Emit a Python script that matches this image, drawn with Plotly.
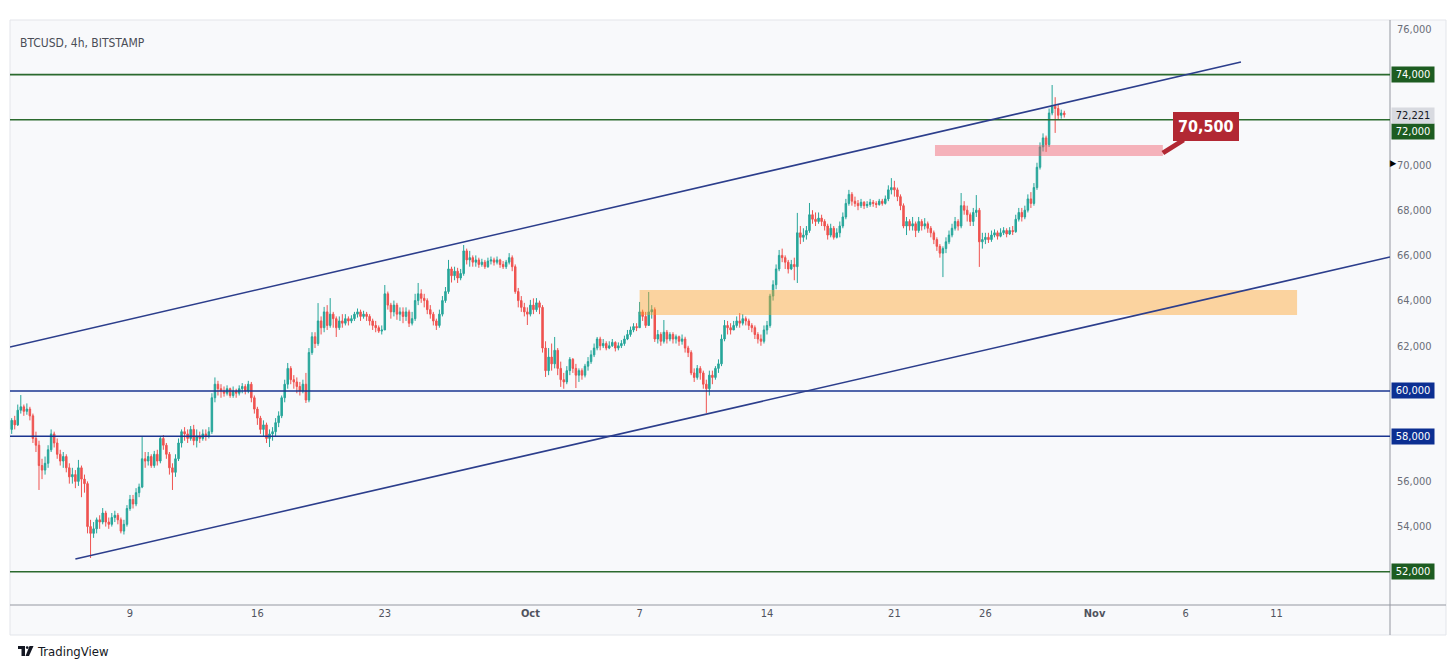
import pandas as pd
import plotly.graph_objects as go

# ---------------- data (BTCUSD 4h) ----------------
first_open = 58300
closes = [
    58700, 58500, 59150,                                  # Sep 2 (from 12:00)
    59300, 59100, 59200, 58900, 57900, 57600,             # Sep 3
    56700, 56500, 56800, 57400, 58100, 57700,             # Sep 4
    57200, 56900, 57100, 56600, 56200, 56300,             # Sep 5
    56000, 56600, 56100, 55900, 54000, 53700,             # Sep 6
    53900, 54300, 54200, 54600, 54200, 54100,             # Sep 7
    54400, 54500, 54300, 53800, 54100, 54800,             # Sep 8
    55200, 55000, 55500, 55750, 57000, 56900,             # Sep 9
    57100, 56700, 57200, 56900, 57900, 57600,             # Sep 10
    57200, 56600, 56400, 57000, 57700, 58200,             # Sep 11
    58100, 57900, 58300, 57800, 58000, 57900,             # Sep 12
    58100, 58000, 58200, 59700, 60300, 60100,             # Sep 13
    60000, 59900, 60100, 59800, 60000, 59900,             # Sep 14
    60100, 60200, 60000, 60300, 59700, 59200,             # Sep 15
    58800, 58300, 58500, 57900, 58100, 58200,             # Sep 16
    58600, 58900, 59700, 60300, 61000, 60500,             # Sep 17
    60400, 60200, 60000, 60300, 59600, 61700,             # Sep 18
    62400, 62100, 63100, 62800, 63500, 62900,             # Sep 19
    63400, 63200, 62800, 63100, 63000, 63200,             # Sep 20
    63100, 63200, 63400, 63500, 63300, 63400,             # Sep 21
    63300, 63100, 62900, 62800, 62650, 62700,             # Sep 22
    64300, 63800, 63500, 63800, 63400, 63500,             # Sep 23
    63300, 63500, 63000, 63200, 64000, 64300,             # Sep 24
    64100, 64000, 63600, 63400, 63100, 62900,             # Sep 25
    63400, 64000, 64400, 65400, 65100, 65300,             # Sep 26
    65000, 65200, 66200, 65800, 65900, 65700,             # Sep 27
    65800, 65600, 65700, 65500, 65750, 65800,             # Sep 28
    65700, 65800, 65600, 65500, 65700, 65900,             # Sep 29
    65500, 64400, 64000, 63700, 63500, 63400,             # Sep 30
    63800, 63600, 63900, 63700, 61900, 60900,             # Oct 1
    61500, 61200, 61800, 61000, 60500, 60400,             # Oct 2
    60900, 61400, 61000, 60700, 60900, 60700,             # Oct 3
    61100, 61300, 61600, 61900, 62300, 62000,             # Oct 4
    62100, 61900, 62000, 62150, 61900, 62000,             # Oct 5
    62100, 62300, 62500, 62700, 62850, 62800,             # Oct 6
    63500, 63300, 62900, 63500, 63600, 62300,             # Oct 7
    62500, 62200, 62600, 62300, 62500, 62300,             # Oct 8
    62400, 62200, 62300, 61900, 61700, 60800,             # Oct 9
    60600, 61000, 60800, 60300, 60100, 60700,             # Oct 10
    60600, 61000, 61200, 62300, 62900, 62800,             # Oct 11
    62700, 62900, 63100, 63000, 63200, 63100,             # Oct 12
    62900, 62800, 62500, 62300, 62200, 62700,             # Oct 13
    62900, 64200, 64700, 65400, 66000, 65900,             # Oct 14
    65700, 65400, 65600, 65500, 67000, 66800,             # Oct 15
    66900, 67100, 67800, 67600, 67500, 67650,             # Oct 16
    67500, 67300, 66900, 67200, 66800, 67000,             # Oct 17
    67300, 67700, 68300, 68700, 68400, 68300,             # Oct 18
    68200, 68350, 68200, 68250, 68350, 68300,             # Oct 19
    68250, 68400, 68300, 68500, 68900, 69000,             # Oct 20
    68900, 68600, 68200, 67300, 67500, 67300,             # Oct 21
    67400, 67100, 67500, 67300, 67400, 67200,             # Oct 22
    67000, 66700, 66400, 66100, 66300, 66600,             # Oct 23
    66900, 67200, 67500, 67300, 68200, 68000,             # Oct 24
    67800, 67500, 67900, 68000, 66600, 66700,             # Oct 25
    66800, 66700, 66900, 67000, 66850, 67000,             # Oct 26
    67100, 66950, 67100, 67050, 67600, 67900,             # Oct 27
    67700, 68000, 68500, 68300, 69000, 69900,             # Oct 28
    70800, 71200, 70900, 72300, 72600, 72500,             # Oct 29
    72200, 72300, 72221,                                  # Oct 30
]
highs = [
    58800, 58900, 59400,
    59820, 59400, 59450, 59300, 59000, 58200,
    57800, 57000, 57100, 57600, 58300, 58200,
    57900, 57400, 57300, 57200, 56800, 56600,
    56500, 56950, 56700, 56300, 56000, 54300,
    54200, 54400, 54500, 54820, 54700, 54400,
    54600, 54700, 54600, 54400, 54300, 54950,
    55400, 55400, 55700, 55900, 57960, 57300,
    57300, 57200, 57350, 57400, 58000, 58050,
    57700, 57300, 56800, 57200, 57900, 58300,
    58400, 58300, 58450, 58500, 58300, 58200,
    58300, 58300, 58400, 59900, 60600, 60450,
    60300, 60200, 60250, 60150, 60200, 60100,
    60250, 60350, 60300, 60450, 60400, 59800,
    59300, 58900, 58700, 58600, 58300, 58400,
    58800, 59100, 59800, 60500, 61240, 61100,
    60700, 60600, 60400, 60500, 60800, 61900,
    62600, 62600, 63890, 63300, 63720, 63800,
    64110, 63500, 63300, 63300, 63400, 63400,
    63300, 63350, 63500, 63650, 63600, 63550,
    63500, 63400, 63200, 63100, 62900, 62900,
    64690, 64400, 63900, 64000, 63900, 63700,
    63700, 63700, 63600, 63500, 64300, 64780,
    64500, 64300, 64100, 63800, 63500, 63200,
    63600, 64200, 64600, 65800, 65500, 65500,
    65450, 65400, 66460, 66300, 66200, 66000,
    66000, 65900, 65850, 65800, 65900, 65950,
    65900, 65950, 65850, 65750, 65800, 66100,
    66000, 65600, 64560, 64200, 63900, 63700,
    64030, 64100, 64110, 64000, 63800, 62200,
    61900, 62100, 62390, 61900, 61300, 60800,
    61100, 61500, 61460, 61200, 61000, 61000,
    61200, 61500, 61800, 62100, 62390, 62400,
    62300, 62200, 62200, 62300, 62200, 62150,
    62250, 62450, 62700, 62850, 63000, 63000,
    63940, 63600, 63500, 64380, 63800, 63700,
    62700, 62600, 63140, 62700, 62600, 62600,
    62500, 62450, 62500, 62400, 62000, 61800,
    61000, 61150, 61100, 60900, 60500, 60900,
    60900, 61100, 61400, 62500, 63140, 63100,
    63000, 63100, 63300, 63450, 63400, 63300,
    63200, 63000, 62900, 62600, 62500, 62900,
    63100, 64300, 64900, 65600, 66240, 66300,
    66000, 65800, 65800, 65900, 67880, 67300,
    67200, 67300, 68320, 68000, 67900, 67900,
    67800, 67600, 67400, 67400, 67300, 67200,
    67500, 67900, 68500, 68900, 68800, 68600,
    68450, 68500, 68400, 68400, 68500, 68450,
    68400, 68500, 68500, 68650, 69100, 69420,
    69300, 69000, 68700, 68300, 67700, 67600,
    67700, 67500, 67700, 67600, 67650, 67500,
    67300, 67100, 66800, 66500, 66400, 66800,
    67100, 67400, 67700, 67600, 68760, 68400,
    68200, 67900, 68100, 68670, 68100, 67000,
    67000, 67000, 67100, 67150, 67100, 67200,
    67250, 67200, 67250, 67300, 67800, 68100,
    68100, 68200, 68700, 68800, 69200, 70100,
    71000, 71400, 71300, 72500, 73540, 73000,
    72700, 72450, 72400,
]
lows = [
    58100, 58300, 58450,
    59000, 58900, 58950, 58700, 57700, 57300,
    55620, 56100, 56300, 56600, 57300, 57500,
    57000, 56700, 56600, 56400, 55900, 55900,
    55700, 55800, 55300, 55500, 53700, 52610,
    53500, 53700, 53900, 54100, 54000, 53900,
    54000, 54200, 54100, 53700, 53650, 54000,
    54700, 54800, 54900, 55300, 55700, 56600,
    56700, 56600, 56600, 56700, 56800, 57400,
    57000, 56300, 55620, 56200, 56900, 57500,
    57800, 57700, 57800, 57600, 57500, 57700,
    57800, 57800, 57900, 58100, 59500, 59800,
    59700, 59750, 59800, 59700, 59700, 59700,
    59800, 59900, 59850, 59900, 59500, 59000,
    58500, 58100, 58000, 57700, 57520, 57800,
    58000, 58400, 58800, 59500, 60100, 60300,
    60100, 59900, 59800, 59900, 59470, 59500,
    61600, 61900, 62000, 62500, 62600, 62700,
    62800, 62800, 62390, 62700, 62800, 62900,
    62900, 63000, 63100, 63250, 63100, 63200,
    63100, 62900, 62700, 62600, 62570, 62500,
    62700, 63600, 63200, 63300, 63150, 63100,
    63000, 63100, 62830, 62900, 63100, 63800,
    63900, 63700, 63400, 63200, 62900, 62700,
    62800, 63300, 63900, 64300, 64800, 64900,
    64780, 64900, 65100, 65600, 65500, 65500,
    65500, 65450, 65500, 65400, 65450, 65600,
    65550, 65600, 65450, 65400, 65400, 65600,
    65300, 64300, 63700, 63500, 63300, 62920,
    63300, 63400, 63500, 63400, 61700, 60620,
    60700, 60900, 61000, 60700, 60180, 60100,
    60300, 60700, 60800, 60130, 60400, 60500,
    60600, 60900, 61200, 61500, 61800, 61800,
    61900, 61800, 61850, 61950, 61750, 61800,
    61900, 62000, 62250, 62400, 62600, 62650,
    62800, 63100, 62790, 62900, 63200, 62170,
    62100, 62000, 62100, 62100, 62200, 62100,
    62100, 62000, 62050, 61700, 61500, 60700,
    60400, 60500, 60500, 60100, 59030, 59800,
    60300, 60500, 60800, 61100, 62200, 62500,
    62500, 62700, 62800, 62800, 62900, 62900,
    62700, 62600, 62300, 62100, 62000, 62100,
    62500, 62800, 64000, 64500, 65300, 65700,
    65400, 65200, 65350, 64900, 64780, 66500,
    66600, 66700, 67000, 67400, 67300, 67400,
    67300, 67100, 66700, 66800, 66700, 66750,
    66800, 67200, 67600, 68200, 68200, 68150,
    68000, 68100, 68050, 68100, 68150, 68150,
    68100, 68200, 68200, 68250, 68400, 68700,
    68600, 68400, 68000, 67200, 66900, 67100,
    67100, 66810, 67000, 67100, 67150, 67000,
    66800, 66500, 66200, 65900, 65040, 66100,
    66500, 66800, 67100, 67100, 67200, 67800,
    67500, 67300, 67300, 67700, 65490, 66300,
    66500, 66550, 66600, 66800, 66700, 66800,
    66900, 66800, 66900, 66900, 67000, 67500,
    67500, 67600, 67900, 68100, 68200, 68900,
    69800, 70600, 70580, 70800, 72200, 71420,
    72000, 72050, 72100,
]
bar_start = "2024-09-02 12:00"

# horizontal levels
levels = [74000, 72000, 60000, 58000, 52000]
level_kind = ["green", "green", "navy", "navy", "green"]
last_price = 72221

# channel lines (date, price)
upper_channel = [("2024-09-02 09:46", 61946), ("2024-11-09 01:00", 74558)]
lower_channel = [("2024-09-06 00:00", 52565), ("2024-11-17 05:32", 65929)]

# zones
orange_zone = [("2024-10-07 00:00", 63363), ("2024-11-12 03:00", 64469)]
pink_zone = [("2024-10-23 05:30", 70398), ("2024-11-04 18:00", 70885)]
callout_text = "70,500"

x_tick_dates = ["2024-09-09", "2024-09-16", "2024-09-23", "2024-10-01", "2024-10-07",
                "2024-10-14", "2024-10-21", "2024-10-26", "2024-11-01", "2024-11-06",
                "2024-11-11"]
x_tick_text = ["9", "16", "23", "<b>Oct</b>", "7", "14", "21", "26", "<b>Nov</b>", "6", "11"]
y_tick_vals = [76000, 70000, 68000, 66000, 64000, 62000, 56000, 54000]

x_range = ["2024-09-02 09:46", "2024-11-17 05:32"]
y_range = [50530, 76195]

# ---------------- build ----------------
times = pd.date_range(bar_start, periods=len(closes), freq="4h")
opens = [first_open] + closes[:-1]
highs = [max(h, o, c) for h, o, c in zip(highs, opens, closes)]
lows = [min(l, o, c) for l, o, c in zip(lows, opens, closes)]

GREEN_C = "#26a69a"
RED_C = "#ef5350"
LINE_GREEN = "#2b6a2e"
LINE_NAVY = "#1a3590"
BOX_GREEN = "#1d5c21"
BOX_NAVY = "#0c2f92"
CHAN = "#2c3e8c"
FONT = "Liberation Sans Narrow, DejaVu Sans Condensed, Arial Narrow, sans-serif"

W, H = 1452, 669
ML, MR, MT, MB = 10, 62, 25, 64
PW, PH = W - ML - MR, H - MT - MB


def px(xp):
    return (xp - ML) / PW


def py(yp):
    return (H - MB - yp) / PH


fig = go.Figure()
fig.add_trace(go.Candlestick(
    x=times, open=opens, high=highs, low=lows, close=closes,
    increasing=dict(line=dict(color=GREEN_C, width=1), fillcolor=GREEN_C),
    decreasing=dict(line=dict(color=RED_C, width=1), fillcolor=RED_C),
    whiskerwidth=0, showlegend=False, hoverinfo="skip",
))

shapes = []
# chart panel background + frame
shapes.append(dict(type="rect", xref="paper", yref="paper", x0=px(10), x1=px(1446),
                   y0=py(635), y1=py(20), fillcolor="#f8f9fb",
                   line=dict(color="#e3e5ea", width=1), layer="below"))
# axis separators
shapes.append(dict(type="line", xref="paper", yref="paper", x0=1, x1=1, y0=py(635), y1=py(20),
                   line=dict(color="#9598a1", width=1), layer="above"))
shapes.append(dict(type="line", xref="paper", yref="paper", x0=px(10), x1=px(1446), y0=0, y1=0,
                   line=dict(color="#9598a1", width=1), layer="above"))

# zones
shapes.append(dict(type="rect", xref="x", yref="y", x0=orange_zone[0][0], x1=orange_zone[1][0],
                   y0=orange_zone[0][1], y1=orange_zone[1][1],
                   fillcolor="rgba(255,160,30,0.42)", line=dict(width=0), layer="above"))
shapes.append(dict(type="rect", xref="x", yref="y", x0=pink_zone[0][0], x1=pink_zone[1][0],
                   y0=pink_zone[0][1], y1=pink_zone[1][1],
                   fillcolor="rgba(240,80,95,0.42)", line=dict(width=0), layer="above"))

# horizontal levels
for lv, kind in zip(levels, level_kind):
    shapes.append(dict(type="line", xref="paper", yref="y", x0=0, x1=1, y0=lv, y1=lv,
                       line=dict(color=LINE_GREEN if kind == "green" else LINE_NAVY, width=1.6),
                       layer="above"))

# channel
for (p0, p1) in (upper_channel, lower_channel):
    shapes.append(dict(type="line", xref="x", yref="y", x0=p0[0], y0=p0[1], x1=p1[0], y1=p1[1],
                       line=dict(color=CHAN, width=1.6), layer="above"))

# TradingView logo
shapes.append(dict(type="rect", xref="paper", yref="paper", x0=px(18), x1=px(25),
                   y0=py(649), y1=py(646), fillcolor="#131722", line=dict(width=0)))
shapes.append(dict(type="rect", xref="paper", yref="paper", x0=px(21.5), x1=px(25),
                   y0=py(656), y1=py(646), fillcolor="#131722", line=dict(width=0)))
shapes.append(dict(type="circle", xref="paper", yref="paper", x0=px(25.8), x1=px(28.6),
                   y0=py(649), y1=py(646.2), fillcolor="#131722", line=dict(width=0)))
shapes.append(dict(type="path", xref="paper", yref="paper",
                   path=f"M {px(29.5)},{py(646)} L {px(33.5)},{py(646)} L {px(29)},{py(656)} "
                        f"L {px(25.5)},{py(656)} Z",
                   fillcolor="#131722", line=dict(width=0)))

annotations = []
annotations.append(dict(text="BTCUSD, 4h, BITSTAMP", xref="paper", yref="paper",
                        x=px(18), y=py(43), xanchor="left", yanchor="middle", showarrow=False,
                        font=dict(family=FONT, size=12, color="#4a4d57")))
annotations.append(dict(text="TradingView", xref="paper", yref="paper",
                        x=px(35), y=py(651), xanchor="left", yanchor="middle", showarrow=False,
                        font=dict(family=FONT, size=13, color="#131722")))

# right-axis price boxes
box_y = {74000: 74000, 72000: 71480, 60000: 60000, 58000: 58000, 52000: 52000}
for lv, kind in zip(levels, level_kind):
    annotations.append(dict(text=f"{lv:,}", xref="paper", yref="y", x=1, y=box_y[lv],
                            xanchor="left", yanchor="middle", xshift=1, showarrow=False,
                            bgcolor=BOX_GREEN if kind == "green" else BOX_NAVY,
                            width=40, borderpad=1, align="center",
                            font=dict(family=FONT, size=11, color="white")))
annotations.append(dict(text=f"{last_price:,}", xref="paper", yref="y", x=1, y=72212,
                        xanchor="left", yanchor="middle", xshift=1, showarrow=False,
                        bgcolor="#d8dae0", width=40, borderpad=1, align="center",
                        font=dict(family=FONT, size=11, color="#131722")))
annotations.append(dict(text="▶", xref="paper", yref="y", x=1, y=70080, xanchor="left",
                        yanchor="middle", xshift=-2, showarrow=False,
                        font=dict(size=9, color="#000000")))

# callout
annotations.append(dict(text=f"<b>{callout_text}</b>", xref="x", yref="y",
                        x=pink_zone[1][0], y=70531, ax=43, ay=-27, axref="pixel", ayref="pixel",
                        showarrow=True, arrowhead=0, arrowwidth=5, arrowcolor="#b22833",
                        standoff=0, bgcolor="#b22833", bordercolor="#b22833", borderpad=4,
                        font=dict(family=FONT, size=16, color="white")))

fig.update_layout(
    width=W, height=H,
    margin=dict(l=ML, r=MR, t=MT, b=MB),
    paper_bgcolor="white", plot_bgcolor="rgba(0,0,0,0)",
    shapes=shapes, annotations=annotations,
    hovermode=False, showlegend=False,
    font=dict(family=FONT, size=11, color="#6a6d78"),
)
fig.update_xaxes(type="date", range=x_range, showgrid=False, zeroline=False,
                 rangeslider=dict(visible=False), tickvals=x_tick_dates, ticktext=x_tick_text,
                 ticks="", tickfont=dict(family=FONT, size=11, color="#50535e"),
                 fixedrange=True)
fig.update_yaxes(side="right", range=y_range, showgrid=False, zeroline=False,
                 tickvals=y_tick_vals, tickformat=",", ticks="", ticklabelstandoff=6,
                 tickfont=dict(family=FONT, size=11, color="#6a6d78"), fixedrange=True)

fig.write_html("out.html")
